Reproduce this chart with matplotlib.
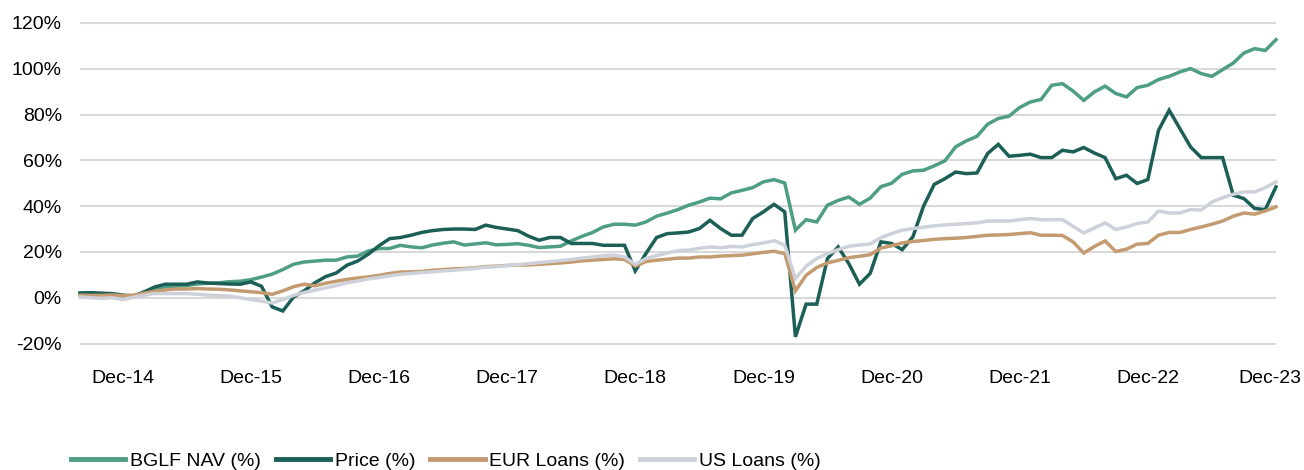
import matplotlib
matplotlib.use("Agg")
import matplotlib.pyplot as plt
import matplotlib.transforms as mtransforms
import pandas as pd

# monthly cumulative returns, Aug-14 .. Dec-23 (%)
months = pd.date_range("2014-08-01", periods=113, freq="MS")

nav = [1.5, 1.5, 1.8, 1.5, 0.8, 0.8, 2.5, 4.0, 4.8, 5.0, 5.3, 6.0, 6.3, 6.5, 7.0, 7.2,
       7.9, 9.0, 10.3, 12.3, 14.6, 15.6, 16.0, 16.4, 16.4, 17.8, 18.2, 20.4, 21.5, 21.5,
       22.9, 22.2, 21.8, 23.0, 23.8, 24.4, 23.0, 23.5, 24.0, 23.1, 23.3, 23.6, 22.9, 21.9,
       22.2, 22.5, 24.8, 26.8, 28.5, 30.9, 32.1, 32.1, 31.7, 33.1, 35.6, 37.0, 38.5, 40.4,
       41.8, 43.5, 43.2, 45.8, 46.9, 48.1, 50.6, 51.6, 50.1, 29.5, 34.1, 33.1, 40.4, 42.5,
       44.0, 40.8, 43.5, 48.5, 50.0, 53.9, 55.4, 55.7, 57.6, 59.8, 65.9, 68.5, 70.5, 75.8,
       78.3, 79.3, 83.1, 85.5, 86.6, 92.8, 93.5, 90.3, 86.2, 89.9, 92.4, 89.2, 87.7, 91.8,
       92.8, 95.3, 96.7, 98.6, 100.1, 97.9, 96.7, 99.6, 102.5, 106.9, 108.8, 108.0, 112.7]

price = [2.1, 2.2, 2.0, 1.8, 1.2, 0.5, 2.5, 4.7, 5.9, 5.9, 5.9, 6.9, 6.4, 6.2, 6.0, 5.9,
         6.9, 5.0, -4.0, -5.8, 0.3, 3.0, 6.5, 9.2, 10.8, 14.2, 16.0, 19.0, 22.7, 25.8,
         26.3, 27.3, 28.5, 29.3, 29.8, 30.0, 30.0, 29.8, 31.7, 30.7, 30.0, 29.3, 26.9, 25.1,
         26.3, 26.3, 23.7, 23.7, 23.7, 22.9, 22.9, 22.9, 11.7, 19.3, 26.3, 28.0, 28.3, 28.7,
         30.2, 33.8, 30.2, 27.3, 27.3, 34.6, 37.5, 40.8, 37.5, -17.1, -2.8, -2.8, 17.1, 22.2,
         14.9, 5.9, 10.6, 24.4, 23.7, 21.0, 26.6, 40.0, 49.5, 52.0, 54.9, 54.2, 54.5, 63.0,
         67.0, 61.8, 62.2, 62.7, 61.2, 61.2, 64.4, 63.7, 65.6, 63.2, 61.2, 52.0, 53.5, 49.9,
         51.6, 73.1, 81.9, 73.9, 65.9, 61.2, 61.2, 61.2, 44.8, 43.3, 39.0, 38.5, 48.4]

eur_loans = [1.1, 1.0, 1.0, 1.2, 1.0, 1.1, 2.0, 2.8, 3.4, 3.8, 3.8, 4.0, 3.8, 3.7, 3.4, 3.0,
             2.6, 2.2, 1.5, 3.0, 4.8, 5.9, 5.2, 6.3, 7.2, 8.0, 8.6, 9.1, 9.8, 10.6,
             11.2, 11.3, 11.5, 12.0, 12.3, 12.6, 12.8, 13.1, 13.6, 13.8, 14.1, 14.3, 14.3, 14.6,
             14.9, 15.2, 15.6, 16.1, 16.4, 16.7, 17.0, 16.7, 13.8, 15.8, 16.4, 16.8, 17.3, 17.3,
             17.8, 17.8, 18.2, 18.4, 18.6, 19.2, 19.8, 20.3, 19.3, 3.0, 9.8, 13.2, 15.2, 16.3,
             17.5, 18.1, 18.8, 21.7, 22.7, 23.9, 24.6, 25.0, 25.5, 25.8, 26.0, 26.3, 26.8, 27.3,
             27.4, 27.6, 28.0, 28.4, 27.3, 27.3, 27.2, 24.4, 19.5, 22.4, 24.8, 20.2, 21.2, 23.4,
             23.7, 27.3, 28.5, 28.5, 29.8, 30.9, 32.1, 33.5, 35.6, 37.0, 36.5, 37.9, 39.7]

us_loans = [0.3, 0.0, -0.3, 0.0, -0.8, 0.2, 1.1, 1.8, 1.8, 1.8, 1.8, 1.5, 1.1, 1.0, 0.7, 0.0,
            -0.8, -1.5, -2.3, -0.8, 1.0, 2.3, 3.3, 4.3, 5.3, 6.5, 7.3, 8.2, 8.8, 9.6,
            10.2, 10.6, 11.0, 11.3, 11.7, 12.0, 12.4, 12.8, 13.3, 13.6, 14.0, 14.5, 14.9, 15.3,
            15.8, 16.2, 16.7, 17.3, 17.8, 18.4, 18.6, 17.8, 14.6, 17.1, 18.4, 19.5, 20.6, 20.8,
            21.6, 22.2, 21.8, 22.4, 22.2, 23.2, 23.9, 24.9, 23.0, 8.4, 13.8, 17.1, 19.3, 21.0,
            22.5, 23.0, 23.5, 26.2, 28.0, 29.5, 30.2, 30.8, 31.4, 31.8, 32.1, 32.4, 32.7, 33.5,
            33.5, 33.5, 34.1, 34.6, 34.1, 34.1, 34.1, 31.2, 28.3, 30.5, 32.7, 29.8, 30.9, 32.4,
            33.1, 37.9, 37.0, 37.0, 38.5, 38.3, 41.8, 43.7, 45.2, 46.2, 46.2, 48.1, 50.6]

series = [("BGLF NAV (%)", nav, "#4E9E86"),
          ("Price (%)", price, "#1C5F56"),
          ("EUR Loans (%)", eur_loans, "#C49B70"),
          ("US Loans (%)", us_loans, "#CDD1DA")]

plt.rcParams["font.family"] = ["Liberation Sans", "DejaVu Sans"]

fig = plt.figure(figsize=(13.04, 4.70), dpi=100)
ax = fig.add_axes([0.0613, 0.2667, 0.9172, 0.6868])

x = list(range(len(months)))
for i, (label, vals, col) in enumerate(series):
    ax.plot(x, vals, color=col, lw=2.5, label=label, zorder=3 + i,
            solid_joinstyle="miter", clip_on=False)

ax.set_xlim(0, len(months) - 1)
ax.set_ylim(-20.5, 120.5)
ax.set_yticks(range(-20, 121, 20))
ax.set_yticklabels([f"{v}%" for v in range(-20, 121, 20)])

dec_idx = [i for i, m in enumerate(months) if m.month == 12]
ax.set_xticks(dec_idx)
ax.set_xticklabels([months[i].strftime("Dec-%y") for i in dec_idx])

ax.grid(axis="y", color="#D9D9D9", lw=1.5)
ax.set_axisbelow(True)
for s in ax.spines.values():
    s.set_visible(False)
ax.tick_params(axis="both", length=0, labelsize=14, colors="black")
ax.tick_params(axis="x", pad=18)
ax.tick_params(axis="y", pad=13)

# last label nudged left so it stays inside the figure
last = ax.get_xticklabels()[-1]
last.set_transform(last.get_transform() +
                   mtransforms.ScaledTranslation(-0.06, 0, fig.dpi_scale_trans))

leg = fig.legend(loc="center left", bbox_to_anchor=(0.041, 0.019), ncol=4,
                 frameon=False, fontsize=14, handlelength=2.8, handletextpad=0.25,
                 columnspacing=0.75)
for h in leg.get_lines():
    h.set_linewidth(3.5)

fig.savefig("out.png", dpi=100)
